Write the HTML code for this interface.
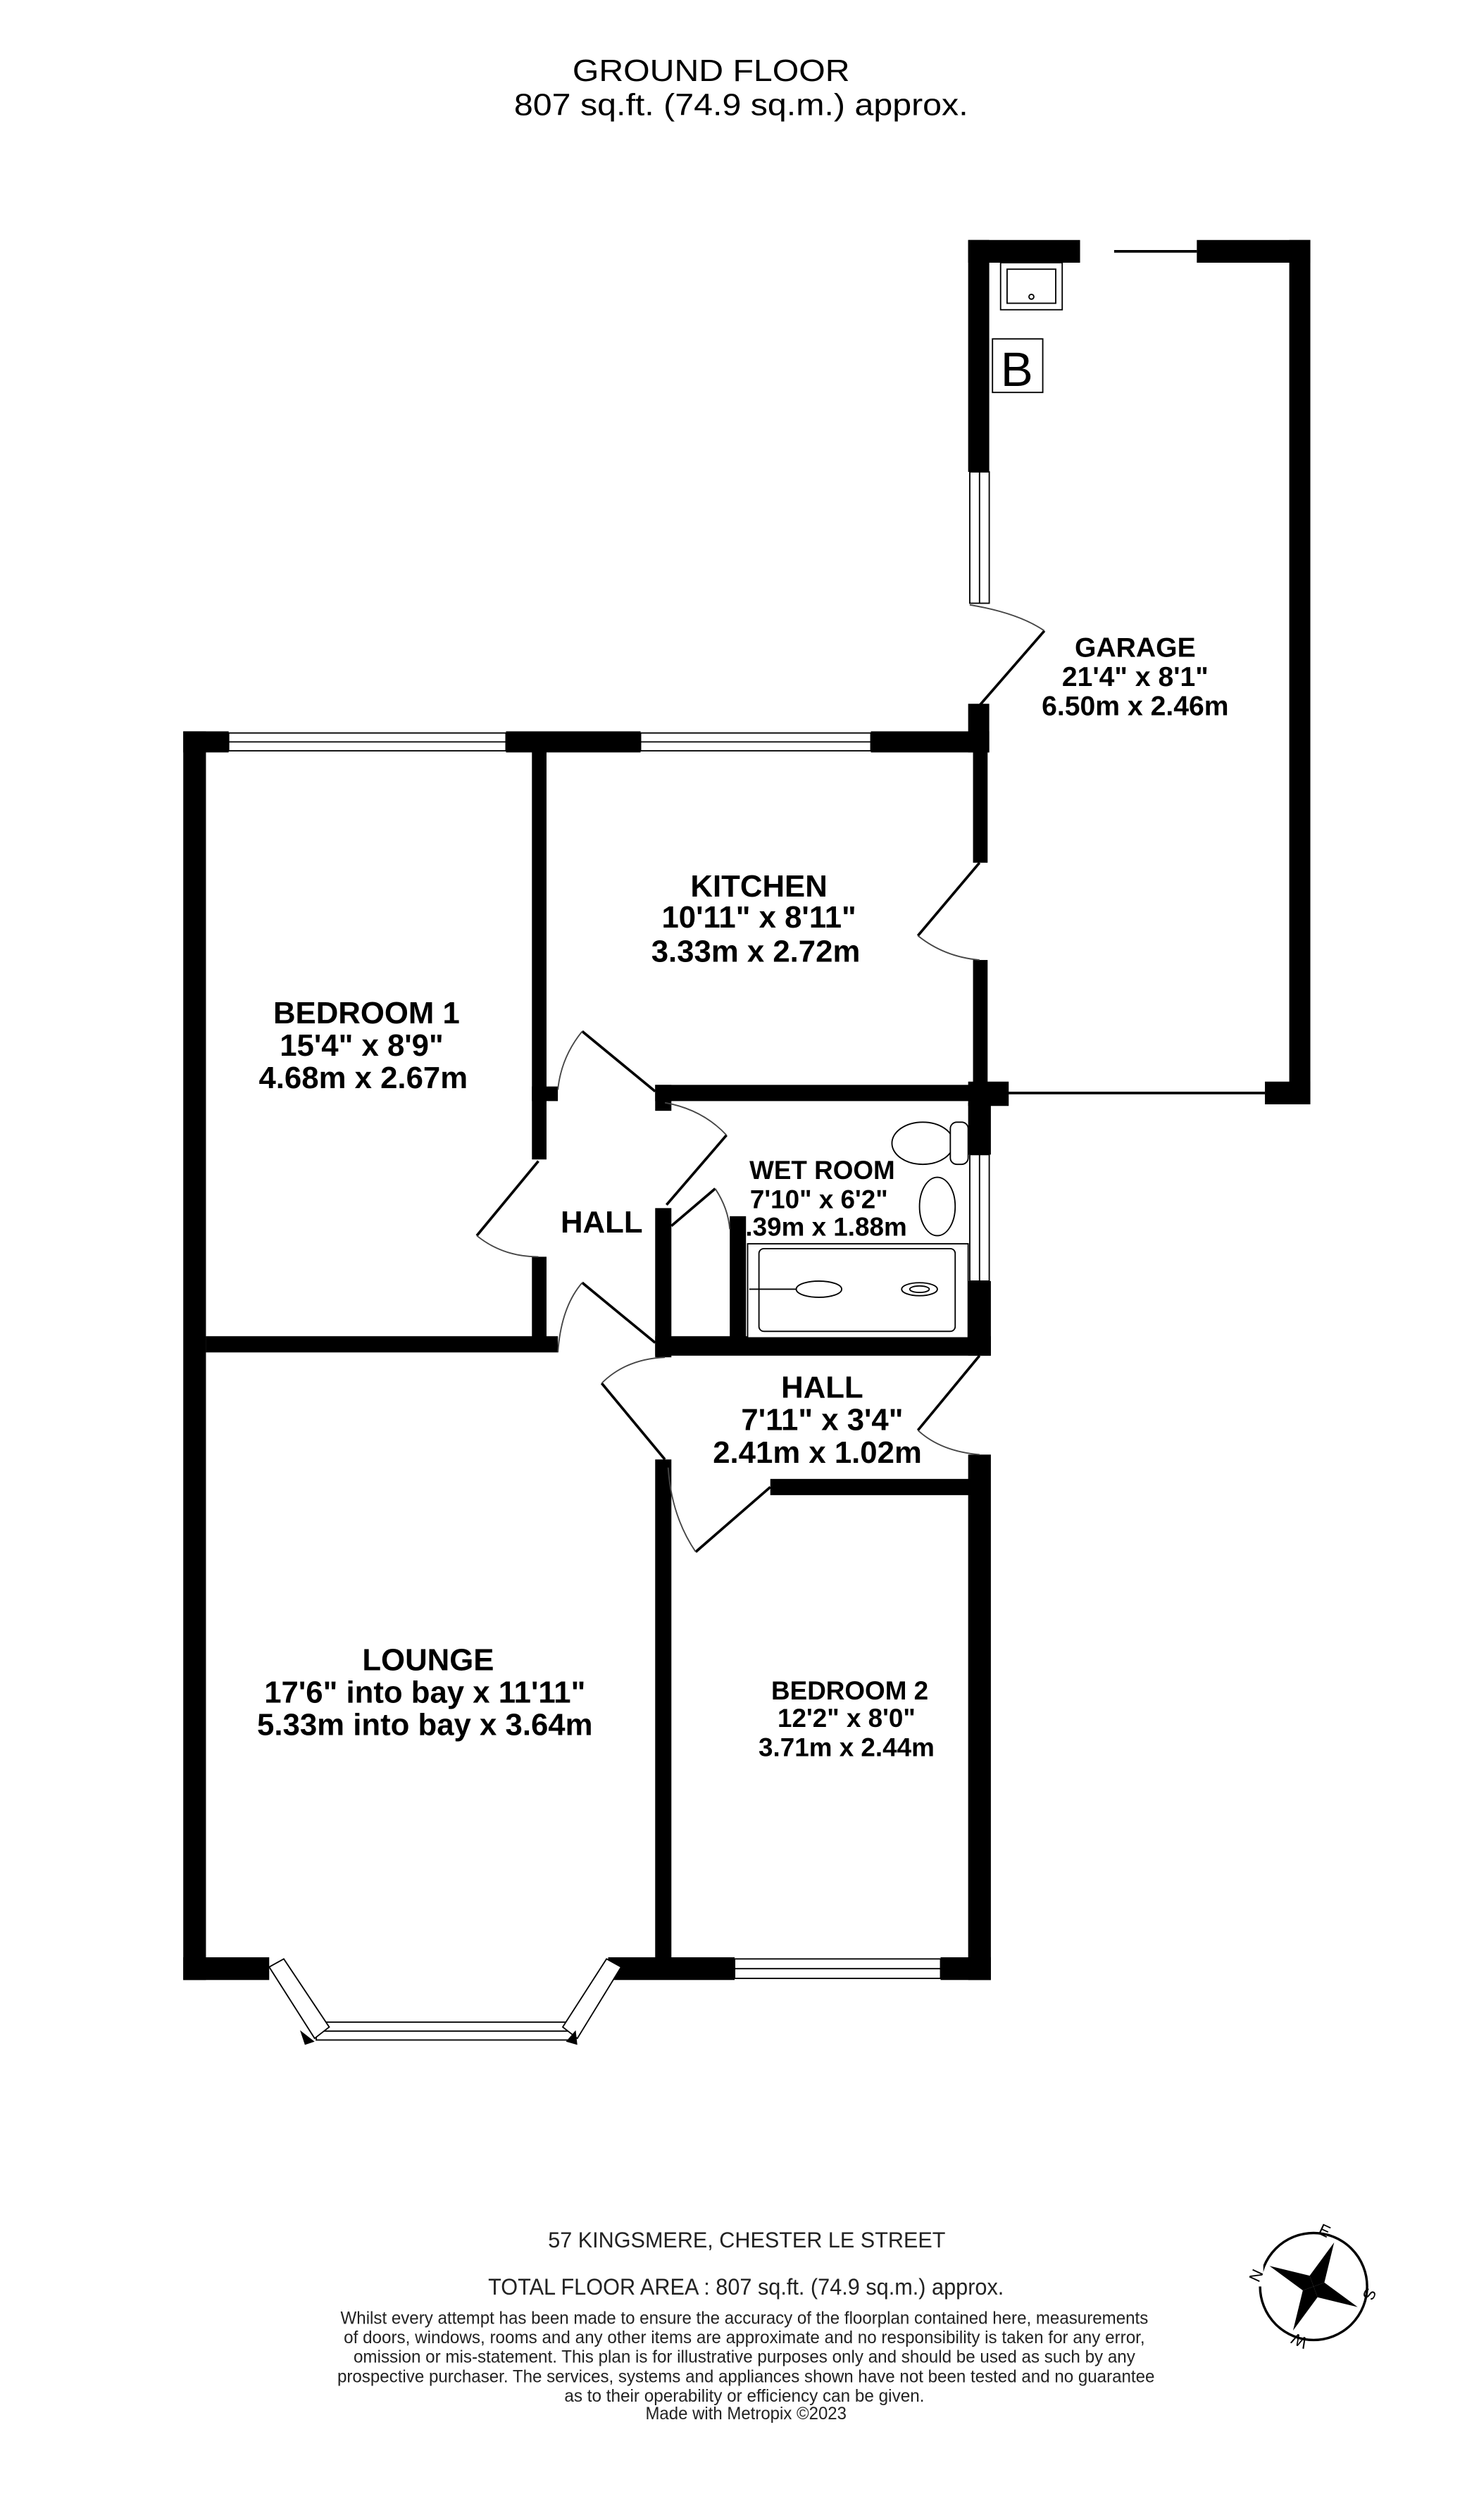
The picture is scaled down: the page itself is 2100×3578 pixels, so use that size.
<!DOCTYPE html>
<html><head><meta charset="utf-8"><style>
html,body{margin:0;padding:0;background:#fff}
svg{display:block}
text{font-family:"Liberation Sans",Arial,sans-serif}
</style></head><body>
<svg width="2100" height="3578" viewBox="0 0 912 1554" preserveAspectRatio="none" xmlns="http://www.w3.org/2000/svg">
<rect width="912" height="1554" fill="#fff"/>
<text x="353" y="50" font-size="19" textLength="171" lengthAdjust="spacingAndGlyphs">GROUND FLOOR</text>
<text x="317" y="71" font-size="19" textLength="280" lengthAdjust="spacingAndGlyphs">807 sq.ft. (74.9 sq.m.) approx.</text>

<g fill="#000">
<rect x="597" y="148" width="69" height="14"/>
<rect x="738" y="148" width="70" height="14"/>
<rect x="795" y="148" width="13" height="532"/>
<rect x="597" y="148" width="13" height="143"/>
<rect x="597" y="434" width="13" height="30"/>
<rect x="780" y="667" width="28" height="14"/>
<rect x="597" y="667" width="25" height="15"/>
<rect x="113" y="451" width="28" height="13"/>
<rect x="312" y="451" width="83" height="13"/>
<rect x="537" y="451" width="73" height="13"/>
<rect x="113" y="451" width="14" height="770"/>
<rect x="600" y="462" width="9" height="70"/>
<rect x="600" y="592" width="9" height="77"/>
<rect x="328" y="462" width="9" height="253"/>
<rect x="328" y="670" width="16" height="9"/>
<rect x="328" y="775" width="9" height="58"/>
<rect x="127" y="824" width="217" height="10"/>
<rect x="404" y="669" width="206" height="10"/>
<rect x="404" y="669" width="10" height="16"/>
<rect x="404" y="745" width="10" height="92"/>
<rect x="450" y="750" width="10" height="77"/>
<rect x="404" y="824" width="207" height="12"/>
<rect x="597" y="680" width="14" height="32"/>
<rect x="597" y="790" width="14" height="46"/>
<rect x="404" y="900" width="10" height="320"/>
<rect x="475" y="912" width="135" height="10"/>
<rect x="597" y="897" width="14" height="324"/>
<rect x="113" y="1207" width="53" height="14"/>
<rect x="375" y="1207" width="78" height="14"/>
<rect x="580" y="1207" width="31" height="14"/>
</g>

<g fill="#fff" stroke="#000" stroke-width="0.8">
<rect x="598" y="291" width="12" height="81"/><line x1="604" y1="291" x2="604" y2="372"/>
<rect x="141" y="452" width="171" height="11"/><line x1="141" y1="457.5" x2="312" y2="457.5"/>
<rect x="395" y="452" width="142" height="11"/><line x1="395" y1="457.5" x2="537" y2="457.5"/>
<rect x="598" y="712" width="12" height="78"/><line x1="604" y1="712" x2="604" y2="790"/>
<rect x="453" y="1208" width="127" height="12"/><line x1="453" y1="1214" x2="580" y2="1214"/>
<rect x="195" y="1247" width="160" height="11"/><line x1="195" y1="1252.5" x2="355" y2="1252.5"/>
<polygon points="166,1213 175,1208 203,1250 194,1257"/>
<polygon points="383,1213 374,1208 347,1250 356,1257"/>
</g>
<g fill="#000"><polygon points="185,1252 194,1259 188,1261"/><polygon points="355,1252 356,1261 349,1259"/></g>

<g fill="none" stroke="#000" stroke-width="1.6">
<line x1="687" y1="155" x2="738" y2="155"/>
<line x1="620" y1="674" x2="780" y2="674"/>
<line x1="604" y1="435" x2="644" y2="389"/>
<line x1="604" y1="532" x2="566" y2="577"/>
<line x1="359" y1="636" x2="404" y2="673"/>
<line x1="294" y1="762" x2="332" y2="716"/>
<line x1="448" y1="700" x2="411" y2="743"/>
<line x1="414" y1="756" x2="441" y2="733"/>
<line x1="359" y1="791" x2="404" y2="828"/>
<line x1="371" y1="853" x2="410" y2="900"/>
<line x1="604" y1="836" x2="566" y2="882"/>
<line x1="429" y1="957" x2="475" y2="917"/>
</g>
<g fill="none" stroke="#444" stroke-width="0.8">
<path d="M598,373 Q628,378 644,389"/>
<path d="M566,577 Q582,590 604,592"/>
<path d="M359,636 Q346,652 344,672"/>
<path d="M294,762 Q310,775 332,775"/>
<path d="M410,680 Q433,684 448,700"/>
<path d="M441,733 Q449,745 450,758"/>
<path d="M359,791 Q346,806 344,834"/>
<path d="M371,853 Q386,838 410,837"/>
<path d="M566,882 Q580,895 604,897"/>
<path d="M412,905 Q414,935 429,957"/>
</g>

<g fill="#fff" stroke="#000" stroke-width="0.8">
<rect x="617" y="162" width="38" height="29"/><rect x="621" y="166" width="30" height="21"/>
<circle cx="636" cy="183" r="1.5"/>
<rect x="612" y="209" width="31" height="33"/>
<ellipse cx="569" cy="705" rx="19" ry="13"/>
<rect x="586" y="692" width="11" height="26" rx="4"/>
<ellipse cx="578" cy="744" rx="11" ry="18"/>
<rect x="461" y="767" width="136" height="58"/>
<rect x="468" y="770" width="121" height="51" rx="3"/>
<ellipse cx="505" cy="795" rx="14" ry="5"/>
<ellipse cx="567" cy="795" rx="11" ry="4"/><ellipse cx="567" cy="795" rx="6" ry="2"/>
<line x1="462" y1="795" x2="491" y2="795"/>
</g>
<text x="627" y="238" font-size="30" text-anchor="middle">B</text>

<g text-anchor="middle" font-weight="bold">
<text x="700" y="405" font-size="17">GARAGE</text>
<text x="700" y="423" font-size="17">21'4"  x 8'1"</text>
<text x="700" y="441" font-size="17">6.50m  x 2.46m</text>
<text x="468" y="553" font-size="19">KITCHEN</text>
<text x="468" y="572" font-size="19">10'11"  x 8'11"</text>
<text x="466" y="593" font-size="19">3.33m  x 2.72m</text>
<text x="226" y="631" font-size="19">BEDROOM 1</text>
<text x="223" y="651" font-size="19">15'4"  x 8'9"</text>
<text x="224" y="671" font-size="19">4.68m  x 2.67m</text>
<text x="507" y="727" font-size="16">WET ROOM</text>
<text x="505" y="745" font-size="16">7'10"  x 6'2"</text>
<text x="505" y="762" font-size="16">2.39m  x 1.88m</text>
<text x="371" y="760" font-size="19">HALL</text>
<text x="507" y="862" font-size="19">HALL</text>
<text x="507" y="882" font-size="19">7'11"  x 3'4"</text>
<text x="504" y="902" font-size="19">2.41m  x 1.02m</text>
<text x="264" y="1030" font-size="19">LOUNGE</text>
<text x="262" y="1050" font-size="19">17'6" into bay x 11'11"</text>
<text x="262" y="1070" font-size="19">5.33m into bay x 3.64m</text>
<text x="524" y="1048" font-size="16">BEDROOM 2</text>
<text x="522" y="1065" font-size="16">12'2"  x 8'0"</text>
<text x="522" y="1083" font-size="16">3.71m  x 2.44m</text>
</g>

<g fill="#222" lengthAdjust="spacingAndGlyphs">
<text x="338" y="1386" font-size="13.5" textLength="245" lengthAdjust="spacingAndGlyphs">57 KINGSMERE, CHESTER LE STREET</text>
<text x="301" y="1415" font-size="14" textLength="318" lengthAdjust="spacingAndGlyphs">TOTAL FLOOR AREA : 807 sq.ft. (74.9 sq.m.) approx.</text>
<text x="210" y="1433" font-size="11" textLength="498" lengthAdjust="spacingAndGlyphs">Whilst every attempt has been made to ensure the accuracy of the floorplan contained here, measurements</text>
<text x="212" y="1445" font-size="11" textLength="494" lengthAdjust="spacingAndGlyphs">of doors, windows, rooms and any other items are approximate and no responsibility is taken for any error,</text>
<text x="218" y="1457" font-size="11" textLength="482" lengthAdjust="spacingAndGlyphs">omission or mis-statement. This plan is for illustrative purposes only and should be used as such by any</text>
<text x="208" y="1469" font-size="11" textLength="504" lengthAdjust="spacingAndGlyphs">prospective purchaser. The services, systems and appliances shown have not been tested and no guarantee</text>
<text x="348" y="1481" font-size="11" textLength="222" lengthAdjust="spacingAndGlyphs">as to their operability or efficiency can be given.</text>
<text x="398" y="1492" font-size="11" textLength="124" lengthAdjust="spacingAndGlyphs">Made with Metropix ©2023</text>
</g>

<g transform="translate(810,1410)">
<circle r="33" fill="none" stroke="#000" stroke-width="1.5"/>
<g transform="rotate(-65)">
<polygon points="0,-30 5,-5 0,0 -5,-5" fill="#000"/>
<polygon points="0,30 5,5 0,0 -5,5" fill="#000"/>
<polygon points="-30,0 -5,-5 0,0 -5,5" fill="#000"/>
<polygon points="30,0 5,-5 0,0 5,5" fill="#000"/>
</g>
<rect x="-41" y="-14" width="10" height="14" fill="#fff"/>
<text x="-36" y="-3" font-size="10" text-anchor="middle" transform="rotate(-65 -36 -7)">N</text>
<text x="7" y="-31" font-size="10" text-anchor="middle" transform="rotate(25 7 -35)">E</text>
<text x="35" y="9" font-size="10" text-anchor="middle" transform="rotate(115 35 5)">S</text>
<text x="-9" y="38" font-size="10" text-anchor="middle" transform="rotate(205 -9 34)">W</text>
</g>
</svg>
</body></html>
